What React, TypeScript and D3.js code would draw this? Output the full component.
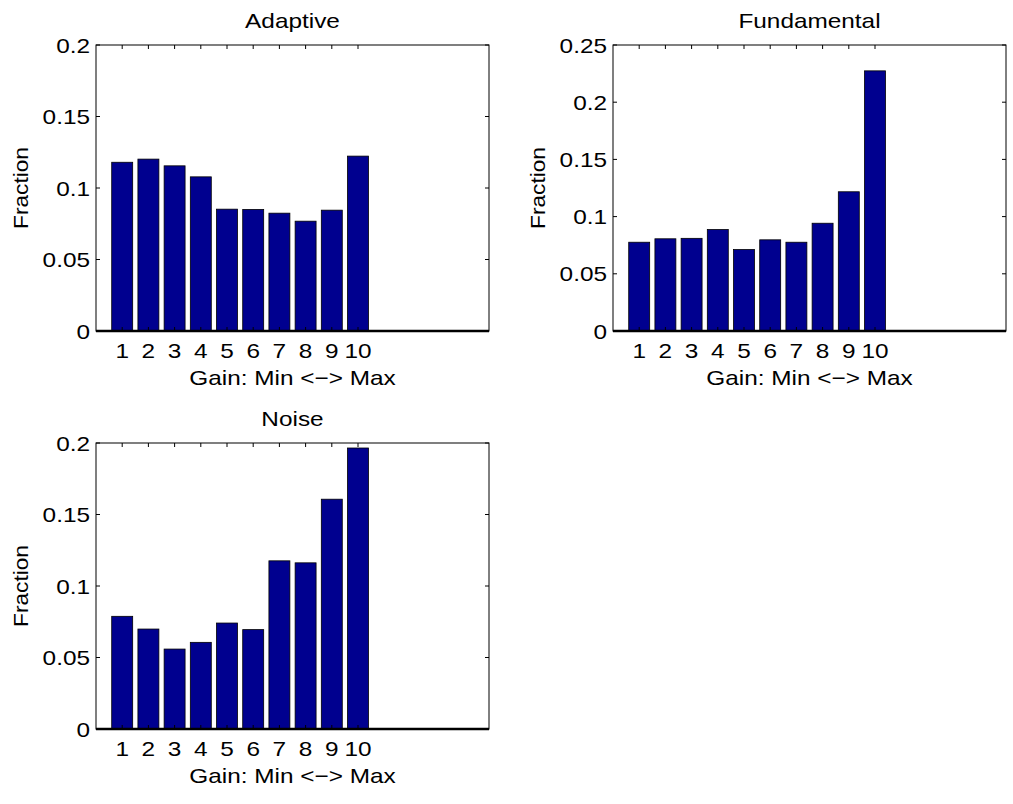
import React from "react";
import * as d3 from "d3";

// gain bins 1..10
const bins = [1, 2, 3, 4, 5, 6, 7, 8, 9, 10];
const adaptive = [0.118, 0.1202, 0.1155, 0.1078, 0.0852, 0.085, 0.0824, 0.0768, 0.0845, 0.1223];
const fundamental = [0.0776, 0.0806, 0.081, 0.0887, 0.0712, 0.0797, 0.0776, 0.0942, 0.1217, 0.2274];
const noise = [0.0788, 0.0699, 0.0559, 0.0606, 0.0741, 0.0695, 0.1176, 0.1162, 0.1607, 0.1965];

const font = "'Liberation Sans', Arial, Helvetica, sans-serif";
const barColor = "rgb(0,0,143)";
const fs = 21;
const sx = 1.16; // glyphs in the original are a bit wider than Arial

// text stretched horizontally around its anchor point
const Label = ({ x, y, anchor = "middle", rotate = 0, stretch = sx, children }) => (
    <g transform={`translate(${x},${y}) rotate(${rotate}) scale(${stretch},1)`}>
        <text x={0} y={0} textAnchor={anchor} fontSize={fs} fill="#000">
            {children}
        </text>
    </g>
);

const Panel = ({ title, values, yMax, left, top }) => {
    const w = 393;
    const h = 286;
    const x = d3.scaleLinear().domain([0, 15]).range([left, left + w]);
    const y = d3.scaleLinear().domain([0, yMax]).range([top + h, top]);
    const yTicks = y.ticks(5);
    const bw = x(0.8) - x(0);
    const fmt = (t) => `${+t.toFixed(3)}`;

    return (
        <g>
            {values.map((v, i) => (
                <rect
                    key={i}
                    x={x(bins[i]) - bw / 2}
                    y={y(v)}
                    width={bw}
                    height={y(0) - y(v)}
                    fill={barColor}
                    stroke="#000"
                    strokeWidth={0.8}
                />
            ))}
            <rect x={left} y={top} width={w} height={h} fill="none" stroke="#000" strokeWidth={1} />
            <line x1={left} x2={left + w} y1={y(0)} y2={y(0)} stroke="#000" strokeWidth={2.5} />
            {/* y ticks, left and right */}
            {yTicks.map((t) => (
                <g key={t}>
                    <line x1={left} x2={left + 4} y1={y(t)} y2={y(t)} stroke="#000" />
                    <line x1={left + w} x2={left + w - 4} y1={y(t)} y2={y(t)} stroke="#000" />
                    <Label x={left - 6} y={y(t) + 7.5} anchor="end">
                        {fmt(t)}
                    </Label>
                </g>
            ))}
            {/* x ticks, bottom and top */}
            {bins.map((b) => (
                <g key={b}>
                    <line x1={x(b)} x2={x(b)} y1={top + h} y2={top + h - 4} stroke="#000" />
                    <line x1={x(b)} x2={x(b)} y1={top} y2={top + 4} stroke="#000" />
                    <Label x={x(b)} y={top + h + 27}>
                        {b}
                    </Label>
                </g>
            ))}
            <Label x={left + w / 2} y={top - 17}>
                {title}
            </Label>
            <Label x={left + w / 2} y={top + h + 54}>
                Gain: Min &lt;−&gt; Max
            </Label>
            <Label x={left - 68} y={top + h / 2} rotate={-90} stretch={1.08}>
                Fraction
            </Label>
        </g>
    );
};

const App = () => {
    return (
        <div style={{ position: "absolute", left: 0, top: 0 }}>
            <svg width={1013} height={804} style={{ display: "block", background: "#fff", fontFamily: font }}>
                <Panel title="Adaptive" values={adaptive} yMax={0.2} left={96} top={45} />
                <Panel title="Fundamental" values={fundamental} yMax={0.25} left={613} top={45} />
                <Panel title="Noise" values={noise} yMax={0.2} left={96} top={443} />
            </svg>
        </div>
    );
};

export default App;
